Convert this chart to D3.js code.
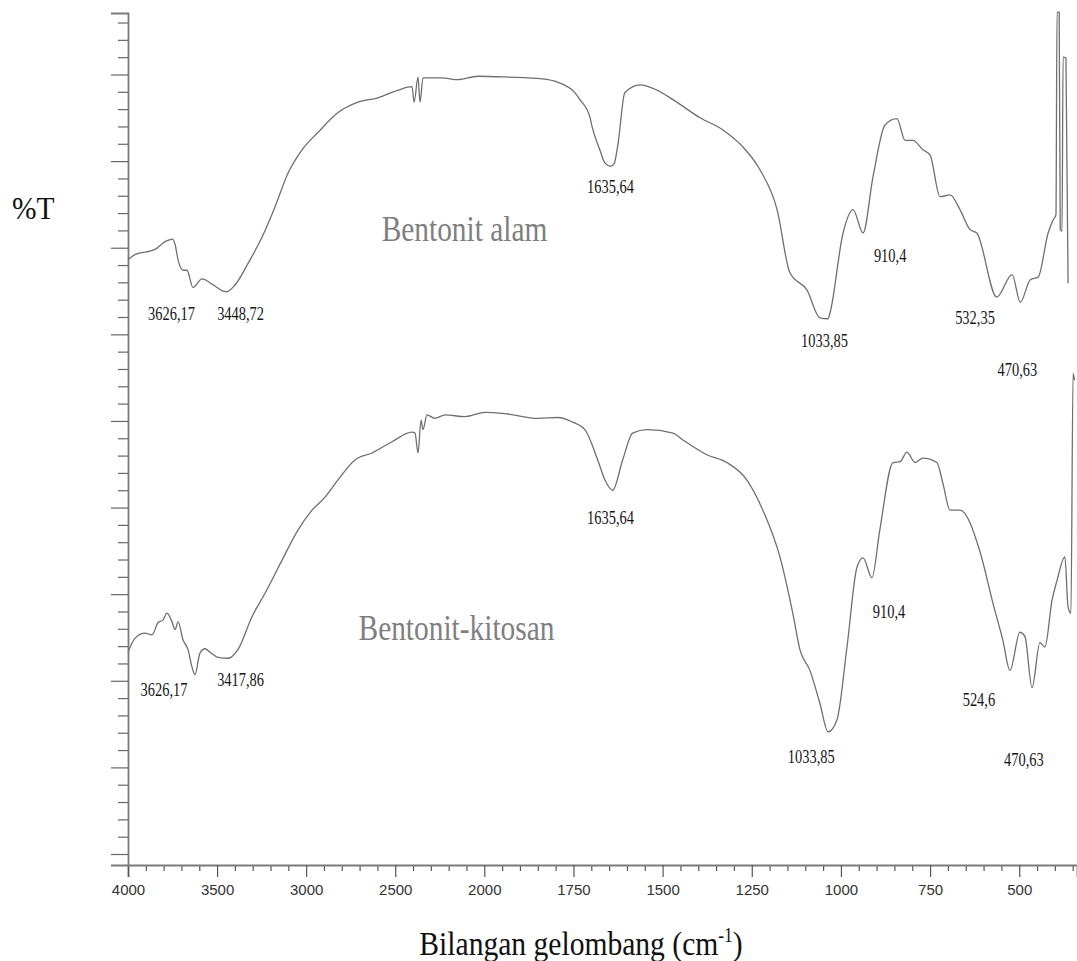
<!DOCTYPE html>
<html>
<head>
<meta charset="utf-8">
<script src="https://cdn.jsdelivr.net/npm/d3@7"></script>
<style>
  html, body { margin: 0; padding: 0; background: #fff; }
  svg { display: block; }
</style>
</head>
<body>
<svg id="chart" width="1077" height="961"></svg>
<script>
// ---------------- DATA ----------------
// Bentonit alam (upper trace): wavenumber (cm-1) and %T (arbitrary offset units)
const wnAlam = [4000, 3961, 3848, 3792, 3750, 3736, 3719, 3691, 3669, 3635, 3585, 3528, 3467, 3448, 3399, 3326, 3248, 3175, 3102, 3023, 2934, 2821, 2709, 2597, 2484, 2406, 2394, 2372, 2361, 2344, 2237, 2148, 2035, 1934, 1838, 1793, 1746, 1732, 1704, 1698, 1676, 1662, 1645, 1636, 1625, 1606, 1563, 1516, 1471, 1395, 1331, 1274, 1227, 1179, 1143, 1095, 1059, 1036, 1031, 994, 966, 938, 910, 876, 843, 820, 798, 770, 750, 722, 694, 666, 638, 619, 563, 520, 497, 469, 447, 419, 405, 397, 394, 388, 385, 380, 377, 369, 363];
const tAlam  = [68.6, 69.2, 69.8, 70.7, 71.0, 70.4, 68.6, 67.4, 67.4, 65.4, 66.4, 65.8, 65.0, 64.9, 65.7, 68.2, 71.2, 74.7, 78.6, 81.3, 83.3, 85.6, 86.8, 87.3, 88.2, 88.6, 86.8, 89.7, 86.8, 89.6, 89.6, 89.4, 89.8, 89.7, 89.5, 89.1, 87.9, 87.1, 85.1, 84.0, 81.3, 79.8, 79.4, 79.7, 82.0, 87.9, 88.8, 88.2, 87.1, 85.0, 83.6, 81.6, 79.0, 74.4, 67.1, 65.1, 61.9, 61.8, 62.4, 71.7, 74.4, 71.7, 78.2, 84.2, 84.9, 82.4, 82.4, 81.3, 80.7, 75.9, 76.1, 74.4, 72.1, 71.7, 64.3, 66.9, 63.7, 66.3, 66.6, 71.7, 73.2, 73.8, 97.2, 97.2, 72.1, 71.9, 92.0, 91.9, 65.9];

// Bentonit-kitosan (lower trace)
const wnKitosan = [4000, 3961, 3905, 3865, 3832, 3804, 3781, 3753, 3736, 3719, 3691, 3663, 3641, 3624, 3596, 3568, 3540, 3495, 3439, 3383, 3304, 3231, 3136, 3046, 2967, 2894, 2821, 2726, 2630, 2518, 2406, 2389, 2372, 2355, 2344, 2322, 2277, 2221, 2108, 1998, 1934, 1850, 1793, 1754, 1718, 1682, 1662, 1640, 1612, 1584, 1544, 1471, 1443, 1376, 1320, 1264, 1219, 1171, 1135, 1115, 1087, 1059, 1036, 1011, 983, 955, 938, 913, 891, 854, 834, 815, 792, 770, 731, 714, 694, 666, 610, 574, 546, 526, 498, 484, 464, 442, 428, 408, 394, 372, 363, 355, 349, 345];
const tKitosan  = [23.3, 24.9, 25.5, 25.3, 26.7, 27.0, 27.8, 26.8, 25.9, 26.8, 24.7, 23.6, 21.6, 20.7, 23.2, 23.7, 23.3, 22.7, 22.6, 23.6, 27.4, 30.1, 33.9, 37.4, 39.7, 41.2, 43.2, 45.5, 46.3, 47.6, 48.7, 48.6, 46.3, 50.1, 49.0, 50.7, 50.3, 50.7, 50.5, 51.0, 50.8, 50.3, 50.4, 49.9, 49.0, 45.5, 43.2, 42.0, 45.5, 48.6, 49.0, 48.6, 47.8, 46.1, 45.2, 43.2, 39.7, 34.3, 27.8, 23.6, 21.2, 17.4, 14.1, 15.5, 23.9, 33.1, 34.2, 31.9, 37.4, 45.2, 45.3, 46.4, 45.2, 45.7, 45.2, 42.8, 39.7, 39.7, 34.9, 29.0, 24.7, 21.2, 25.6, 25.1, 19.2, 24.4, 23.9, 29.3, 31.6, 34.3, 28.5, 27.8, 55.5, 54.7];

// Series names and their label anchor (wavenumber, %T)
const seriesNames = ["Bentonit alam", "Bentonit-kitosan"];
const seriesLabelWn = [2111, 2156];
const seriesLabelT  = [70.8, 24.7];

// Peak annotations
const peakTextAlam = ["3626,17", "3448,72", "1635,64", "1033,85", "910,4", "532,35", "470,63"];
const peakWnAlam   = [3756, 3368, 1646, 1046, 862, 624, 505];
const peakTAlam    = [61.7, 61.7, 76.3, 58.5, 68.4, 61.2, 55.2];

const peakTextKitosan = ["3626,17", "3417,86", "1635,64", "910,4", "1033,85", "524,6", "470,63"];
const peakWnKitosan   = [3798, 3368, 1646, 865, 1083, 613, 487];
const peakTKitosan    = [18.3, 19.4, 38.1, 27.3, 10.5, 17.1, 10.2];

// Axis ticks
const xMajorTicks = [4000, 3500, 3000, 2500, 2000, 1750, 1500, 1250, 1000, 750, 500];
const xTickLabels = ["4000", "3500", "3000", "2500", "2000", "1750", "1500", "1250", "1000", "750", "500"];
const xMinorTicks = [3900, 3800, 3700, 3600, 3400, 3300, 3200, 3100, 2900, 2800, 2700, 2600, 2400, 2300, 2200, 2100,
                     1950, 1900, 1850, 1800, 1700, 1650, 1600, 1550, 1450, 1400, 1350, 1300, 1200, 1150, 1100, 1050,
                     950, 900, 850, 800, 700, 650, 600, 550, 450, 400, 350];
const yMajorTicks = [0, 10, 20, 30, 40, 50, 60, 70, 80, 90];
const yMinorTicks = [2, 4, 6, 8, 12, 14, 16, 18, 22, 24, 26, 28, 32, 34, 36, 38, 42, 44, 46, 48, 52, 54, 56, 58,
                     62, 64, 66, 68, 72, 74, 76, 78, 82, 84, 86, 88, 92, 94, 96];

const yTitle = "%T";
const xTitle = "Bilangan gelombang (cm";
const xTitleSup = "-1";

// ---------------- DRAW ----------------
const svg = d3.select("#chart");
const xLeft = 128, xBreak = 484.3, xRight = 1077;
const yBottom = 865, yTop = 13;

// Spectrometer-style split scale: 4000-2000 at half resolution
const x = d3.scaleLinear().domain([4000, 2000, 338]).range([xLeft, xBreak, xRight]);
const y = d3.scaleLinear().domain([-1.27, 97.1]).range([yBottom, yTop]);

const axisColor = "#7a7a7a";

// X axis (minor + major in separate groups)
const gxMinor = svg.append("g").attr("transform", `translate(0,${yBottom})`)
  .call(d3.axisBottom(x).tickValues(xMinorTicks).tickSize(6).tickFormat(""));
const gx = svg.append("g").attr("transform", `translate(0,${yBottom})`)
  .call(d3.axisBottom(x).tickValues(xMajorTicks).tickSize(12)
    .tickFormat((d, i) => xTickLabels[i]).tickPadding(7));
gxMinor.select(".domain").remove();
gx.selectAll(".domain").attr("stroke", axisColor).attr("stroke-width", 1.8);
svg.selectAll(".tick line").attr("stroke", "#555").attr("stroke-width", 1.2);
gx.selectAll(".tick text").attr("font-family", "Liberation Sans, Arial, sans-serif")
  .attr("font-size", 15).attr("fill", "#333");

// Y axis
const gyMinor = svg.append("g").attr("transform", `translate(${xLeft},0)`)
  .call(d3.axisLeft(y).tickValues(yMinorTicks).tickSize(10).tickFormat(""));
const gy = svg.append("g").attr("transform", `translate(${xLeft},0)`)
  .call(d3.axisLeft(y).tickValues(yMajorTicks).tickSize(17).tickFormat(""));
gyMinor.select(".domain").remove();
gy.selectAll(".domain").attr("stroke", axisColor).attr("stroke-width", 1.8);
gyMinor.selectAll(".tick line").attr("stroke", "#666").attr("stroke-width", 1.2);
gy.selectAll(".tick line").attr("stroke", "#666").attr("stroke-width", 1.2);

// Spectra
const line = d3.line().x(d => x(d[0])).y(d => y(d[1])).curve(d3.curveMonotoneX);
const seriesData = [
  d3.zip(wnAlam, tAlam),
  d3.zip(wnKitosan, tKitosan)
];
svg.append("g").selectAll("path.spec").data(seriesData).join("path")
  .attr("class", "spec")
  .attr("d", line)
  .attr("fill", "none")
  .attr("stroke", "#6f6f6f")
  .attr("stroke-width", 1.3)
  .attr("stroke-linejoin", "round");

// Helper: condensed serif text (the source text is narrow and tall)
function condense(sel, factor) {
  sel.each(function () {
    const w = this.getComputedTextLength();
    d3.select(this).attr("textLength", w * factor).attr("lengthAdjust", "spacingAndGlyphs");
  });
}

// Series names
svg.append("g").selectAll("text").data(seriesNames).join("text")
  .attr("x", (d, i) => x(seriesLabelWn[i]))
  .attr("y", (d, i) => y(seriesLabelT[i]))
  .attr("text-anchor", "middle")
  .attr("font-family", "Liberation Serif, Times New Roman, serif")
  .attr("font-size", 35)
  .attr("fill", "#7f7f7f")
  .text(d => d)
  .call(condense, 0.84);

// Peak labels
function peaks(texts, wns, ts) {
  svg.append("g").selectAll("text").data(texts).join("text")
    .attr("x", (d, i) => x(wns[i]))
    .attr("y", (d, i) => y(ts[i]))
    .attr("text-anchor", "middle")
    .attr("font-family", "Liberation Serif, Times New Roman, serif")
    .attr("font-size", 19)
    .attr("fill", "#151515")
    .text(d => d)
    .call(condense, 0.76);
}
peaks(peakTextAlam, peakWnAlam, peakTAlam);
peaks(peakTextKitosan, peakWnKitosan, peakTKitosan);

// Y title
svg.append("text")
  .attr("x", 12).attr("y", 219)
  .attr("font-family", "Liberation Serif, Times New Roman, serif")
  .attr("font-size", 31).attr("fill", "#111")
  .text(yTitle).call(condense, 0.95);

// X title with superscript
const cx = 581;
const xt = svg.append("text")
  .attr("x", cx).attr("y", 955)
  .attr("text-anchor", "middle")
  .attr("font-family", "Liberation Serif, Times New Roman, serif")
  .attr("font-size", 34).attr("fill", "#111");
xt.append("tspan").text(xTitle);
xt.append("tspan").attr("font-size", 20).attr("dy", -13).text(xTitleSup);
xt.append("tspan").attr("dy", 13).text(")");
xt.attr("transform", `translate(${cx},0) scale(0.87,1) translate(${-cx},0)`);
</script>
</body>
</html>
